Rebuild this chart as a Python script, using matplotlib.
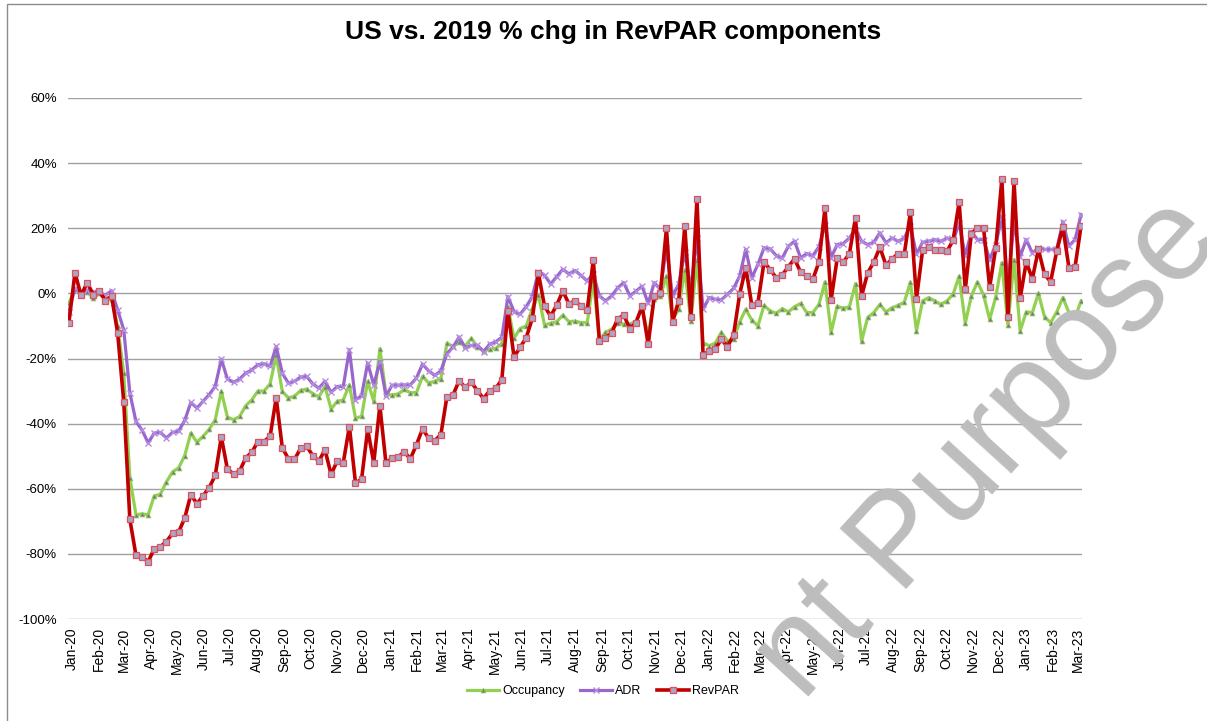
import matplotlib
matplotlib.use("Agg")
import matplotlib.pyplot as plt
from matplotlib.patches import Rectangle
from matplotlib.ticker import FuncFormatter, MultipleLocator
import pandas as pd

plt.rcParams['font.family'] = ['Liberation Sans', 'DejaVu Sans']

start_week = "2019-12-29"

occupancy = [
    -3, 1.2, 0, 0.5, -1.5, 0, -2, -1.8, -10, -24.5,
    -56.6, -68, -67.7, -68, -62.2, -61.7, -57.9, -54.8, -53.6, -49.8,
    -42.9, -45.7, -43.9, -41.8, -38.8, -30.1, -38, -38.8, -37.8, -34.5,
    -32.7, -30, -30, -27.8, -19, -30.1, -32.1, -31.6, -29.8, -29.4,
    -30.8, -31.8, -28.6, -35.5, -33.2, -32.7, -28.1, -38.3, -37.8, -27,
    -33.2, -17, -31, -31.2, -30.9, -29.5, -30.5, -30.5, -25.5, -27.5,
    -27, -26.2, -15.3, -16.3, -15, -16.2, -13.8, -16.4, -17.6, -17.2,
    -16.9, -15.4, -4.1, -13.8, -10.8, -10, -4.6, -0.5, -9.7, -9.2,
    -8.7, -6.7, -8.7, -8.5, -9, -9, 4, -14.3, -12, -11,
    -9, -9.5, -9.5, -8.5, -4.5, -13, -1.8, -0.8, 5.3, -8,
    -4.9, 7.3, -8.5, 10.4, -15.1, -16.1, -15.3, -12, -14.6, -14.1,
    -8.8, -4.9, -8.2, -10, -3.7, -5.4, -6.1, -4.7, -5.7, -4.1,
    -3.1, -5.9, -5.9, -3.4, 3.5, -12, -3.9, -4.6, -4.1, 3,
    -14.6, -7.4, -5.9, -3.4, -5.7, -4.4, -3.7, -2.7, 3.4, -11.5,
    -2.3, -1.3, -2.3, -3.4, -2.3, -0.3, 5.3, -9.2, -0.8, 3.5,
    -0.5, -8, -1.1, 9.4, -9.8, 10.4, -11.5, -5.7, -5.9, 0,
    -7.2, -9, -5.7, -1.3, -5.9, -7.4, -2.3,
]

adr = [
    -5.6, 1.5, 0, 1, 0.5, 0.2, -0.5, 0.8, -5.1, -11.2,
    -30.6, -39.3, -42, -45.9, -42.9, -42.7, -44.4, -42.7, -42.3, -39,
    -33.5, -35.2, -33.2, -31.1, -28.6, -20.2, -26.3, -27.3, -26.3, -24.5,
    -23.5, -21.9, -21.6, -22.4, -16.3, -24.5, -27.6, -27, -25.7, -25.5,
    -27.8, -29.1, -27, -30.4, -28.6, -28.6, -17.3, -32.7, -31.4, -21.4,
    -28.1, -21, -31.5, -28.2, -28.2, -28.1, -28.1, -26, -21.7, -23.8,
    -25.2, -23.8, -18.5, -16.5, -13.4, -16.7, -16, -15.9, -17.9, -15.6,
    -14.9, -13.5, -1, -5.6, -6.4, -4.1, -1, 6.7, 5.6, 2.9,
    5.1, 7.4, 6, 7, 5.5, 3.8, 6, -0.8, -2.3, -0.8,
    1.7, 3.3, -0.8, 0.7, 2.2, -3.1, 3.3, 1.2, 14, -0.8,
    2.8, 12.7, 1.3, 17, -4.9, -1.3, -1.8, -2, -0.3, 1.5,
    5.3, 13.5, 4.8, 8.9, 14, 13.7, 11.6, 10.9, 14.5, 16,
    10.9, 12.2, 11.6, 14.3, 21, 11, 15, 15.3, 17, 19.6,
    16, 15, 15.7, 18.6, 15.5, 17, 16, 17, 20.8, 12,
    15.7, 16, 16.5, 16, 17, 16, 21.6, 11.5, 19, 16.5,
    16.5, 10.4, 15, 23.5, 3, 21.7, 11.3, 16.5, 12.4, 14,
    13.5, 13.5, 13.5, 22, 14.5, 16.5, 24.2,
]

revpar = [
    -9.0, 6.3, -0.6, 3.3, -0.4, 0.6, -2.2, -0.8, -12.2, -33.3,
    -69.4, -80.4, -80.9, -82.4, -78.4, -77.8, -76.2, -73.7, -73.3, -69.0,
    -61.8, -64.6, -62.2, -59.7, -55.9, -44.1, -54.0, -55.4, -54.6, -50.5,
    -48.8, -45.5, -45.5, -43.9, -32.1, -47.4, -50.8, -51.0, -47.6, -47.0,
    -49.8, -51.5, -48.0, -55.6, -51.5, -52.0, -40.9, -58.2, -57.1, -41.8,
    -52.0, -34.5, -52.2, -50.5, -50.2, -48.7, -50.8, -46.5, -41.6, -44.5,
    -45.2, -43.4, -31.7, -31.2, -26.8, -28.9, -27.3, -29.9, -32.3, -29.9,
    -29.2, -26.5, -5.3, -19.5, -16.6, -13.6, -7.7, 6.2, -3.9, -7.0,
    -3.6, 0.7, -3.2, -2.3, -3.9, -5.2, 10.2, -14.6, -13.6, -12.2,
    -7.8, -6.7, -10.8, -9.0, -3.9, -15.6, -0.8, 0.0, 20.0, -8.8,
    -2.3, 20.6, -7.2, 29.0, -18.9, -17.7, -17.1, -14.1, -16.4, -12.8,
    -0.3, 7.9, -3.7, -2.9, 9.6, 7.3, 4.8, 5.7, 8.2, 10.6,
    6.5, 5.3, 4.3, 9.6, 26.2, -2.0, 10.8, 9.6, 12.2, 23.2,
    -0.8, 6.3, 9.6, 14.2, 8.6, 10.6, 12.2, 12.1, 24.9, -1.6,
    13.2, 14.2, 13.2, 13.2, 12.9, 16.3, 28.0, 1.2, 18.3, 20.1,
    20.1, 1.9, 14.0, 35.1, -7.4, 34.4, -1.5, 9.6, 4.5, 13.5,
    5.8, 3.6, 13.0, 20.4, 7.9, 8.1, 20.8,
]

series_names = ["Occupancy", "ADR", "RevPAR"]
title = "US vs. 2019 % chg in RevPAR components"
watermark = "nt Purpose"

weeks = pd.date_range(start_week, periods=len(revpar), freq="7D")
month_ticks = pd.date_range("2020-01-01", "2023-03-01", freq="MS")

fig = plt.figure(figsize=(12.07, 7.21), dpi=100)
ax = fig.add_axes([68 / 1207, 1 - 619 / 721, (1082 - 68) / 1207, (619 - 98) / 721])

occ_c = "#92D050"
adr_c = "#9966CC"
rev_c = "#C00000"

ax.plot(weeks, occupancy, color=occ_c, lw=2.3, marker="^", ms=3.5,
        mfc="#7B6A9A", mec=occ_c, mew=0.6, label=series_names[0], zorder=3)
ax.plot(weeks, adr, color=adr_c, lw=2.3, marker="x", ms=4,
        mec="#B48BE0", mew=1.0, label=series_names[1], zorder=4)
ax.plot(weeks, revpar, color=rev_c, lw=2.6, marker="s", ms=5,
        mfc="#A9A6C8", mec="#E0505A", mew=0.9, label=series_names[2], zorder=5)

ax.set_ylim(-100, 60)
ax.yaxis.set_major_locator(MultipleLocator(20))
ax.yaxis.set_major_formatter(FuncFormatter(lambda v, p: f"{v:.0f}%"))
ax.set_xlim(weeks[0] - pd.Timedelta(days=1), weeks[-1] + pd.Timedelta(days=1))
ax.set_xticks(month_ticks)
ax.set_xticklabels([d.strftime("%b-%y") for d in month_ticks], rotation=90)
ax.tick_params(axis="x", length=0, pad=6, labelsize=10)
ax.tick_params(axis="y", length=0, pad=8, labelsize=9.5)
for s in ax.spines.values():
    s.set_visible(False)
ax.grid(axis="y", color="#A0A0A0", lw=1.0)
ax.set_axisbelow(True)

fig.text(0.508, 1 - 32 / 721, title, ha="center", va="center",
         fontsize=19, fontweight="bold")

ax.legend(loc="center", bbox_to_anchor=(0.4996, 0.0416), bbox_transform=fig.transFigure,
          ncol=3, frameon=False, fontsize=9, handlelength=2.6, columnspacing=1.2,
          handletextpad=0.25)

fig.patches.append(Rectangle((7 / 1207, -0.05), 1.1, 1 - 4 / 721 + 0.05,
                             transform=fig.transFigure, fill=False,
                             edgecolor="#8C8C8C", lw=1.0))

fig.text(803 / 1207, 1 - 703 / 721, watermark, rotation=47.7,
         rotation_mode="anchor", ha="left", va="baseline", fontsize=93,
         color="#BDBDBD", zorder=10)

fig.savefig("out.png", dpi=100)
